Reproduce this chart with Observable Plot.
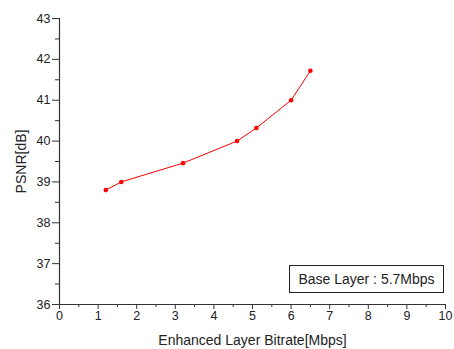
<!DOCTYPE html>
<html>
<head>
<meta charset="utf-8">
<script src="https://cdn.jsdelivr.net/npm/d3@7"></script>
<script src="https://cdn.jsdelivr.net/npm/@observablehq/plot@0.6"></script>
<style>
  body { margin: 0; background: #fff; }
  #wrap { position: relative; width: 454px; height: 349px; }
  #legend {
    position: absolute; left: 289px; top: 265px; width: 153px; height: 26px;
    border: 1px solid #222; background: #fff;
    font: 14px "Liberation Sans", Arial, sans-serif; color: #222;
    display: flex; align-items: center; justify-content: center;
  }
</style>
</head>
<body>
<div id="wrap"></div>
<script>
const bitrate = [1.2, 1.6, 3.2, 4.6, 5.1, 6.0, 6.5];
const psnr = [38.8, 39.0, 39.46, 40.0, 40.32, 41.0, 41.72];
const xTicks = [0, 1, 2, 3, 4, 5, 6, 7, 8, 9, 10];
const xMinor = [0.5, 1.5, 2.5, 3.5, 4.5, 5.5, 6.5, 7.5, 8.5, 9.5];
const yTicks = [36, 37, 38, 39, 40, 41, 42, 43];
const yMinor = [36.5, 37.5, 38.5, 39.5, 40.5, 41.5, 42.5];
const xLabel = "Enhanced Layer Bitrate[Mbps]";
const yLabel = "PSNR[dB]";
const legendText = "Base Layer : 5.7Mbps";

const data = bitrate.map((x, i) => ({x, y: psnr[i]}));
const axisColor = "#333";

const chart = Plot.plot({
  width: 454, height: 349,
  marginLeft: 59, marginRight: 9, marginTop: 18, marginBottom: 45,
  x: {domain: [0, 10]},
  y: {domain: [36, 43]},
  style: {fontFamily: "'Liberation Sans', Arial, sans-serif", fontSize: "12px", color: "#222"},
  marks: [
    Plot.axisX({ticks: xMinor, tickSize: 3, tickFormat: () => "", label: null, stroke: axisColor}),
    Plot.axisX({ticks: xTicks, tickSize: 5, tickPadding: 2, tickFormat: d3.format("d"), label: null, stroke: axisColor, fontSize: 12.5}),
    Plot.axisX({ticks: [], label: xLabel, labelAnchor: "center", labelArrow: "none", labelOffset: 40, fontSize: 14}),
    Plot.axisY({ticks: yMinor, tickSize: 4, tickFormat: () => "", label: null, stroke: axisColor}),
    Plot.axisY({ticks: yTicks, tickSize: 7, tickPadding: 2, tickFormat: d3.format("d"), label: null, stroke: axisColor, fontSize: 12.5}),
    Plot.axisY({ticks: [], label: yLabel, labelAnchor: "center", labelArrow: "none", labelOffset: 43, fontSize: 14}),
    Plot.ruleX([0], {stroke: axisColor, strokeWidth: 1.2}),
    Plot.ruleY([36], {stroke: axisColor, strokeWidth: 1.2}),
    Plot.line(data, {x: "x", y: "y", stroke: "#ff0000", strokeWidth: 1}),
    Plot.dot(data, {x: "x", y: "y", fill: "#ff0000", r: 2.3, stroke: "none"})
  ]
});
const wrap = document.getElementById("wrap");
wrap.appendChild(chart);
const lg = document.createElement("div");
lg.id = "legend";
lg.textContent = legendText;
wrap.appendChild(lg);
</script>
</body>
</html>
